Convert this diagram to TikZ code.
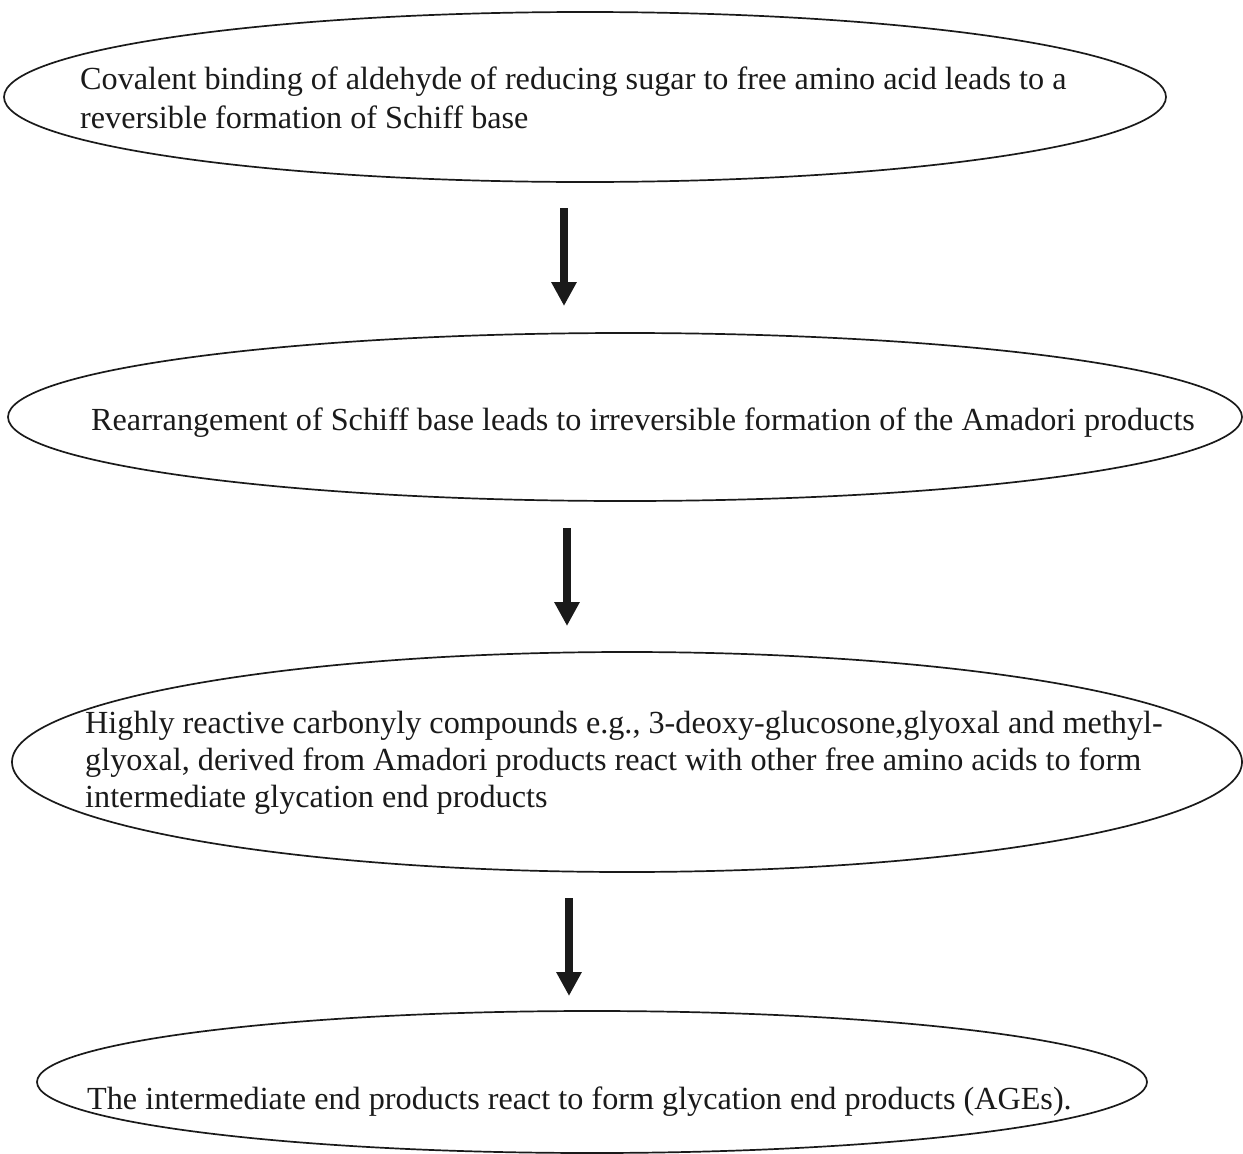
\documentclass[tikz,border=0pt]{standalone}
\usepackage{fontspec}
\setmainfont{Liberation Serif}
\usetikzlibrary{shapes.geometric,arrows.meta}
\definecolor{ink}{HTML}{1A1A1A}
\begin{document}
\begin{tikzpicture}[x=1pt,y=-1pt,
  ell/.style={draw=ink,line width=1.7pt,ellipse,inner sep=0pt,fill=none},
  txt/.style={anchor=base west,inner sep=0pt,text=ink,font=\fontsize{32.2pt}{38pt}\selectfont},
  arr/.style={draw=ink,line width=7.5pt,-{Triangle[width=24pt,length=24pt]}}]
\useasboundingbox (0,0) rectangle (1243,1154);
% ellipses
\node[ell,minimum width=1162pt,minimum height=170pt] (e1) at (585,97) {};
\node[ell,minimum width=1234pt,minimum height=168pt] (e2) at (625,417) {};
\node[ell,minimum width=1230pt,minimum height=220pt] (e3) at (627,762) {};
\node[ell,minimum width=1110pt,minimum height=142pt] (e4) at (592,1082) {};
% texts
\node[txt] (t1a) at (80,89) {Covalent binding of aldehyde of reducing sugar to free amino acid leads to a};
\node[txt] (t1b) at (80,128) {reversible formation of Schiff base};
\node[txt] (t2) at (91,430) {Rearrangement of Schiff base leads to irreversible formation of the Amadori products};
\node[txt] (t3a) at (85,733) {Highly reactive carbonyly compounds e.g., 3-deoxy-glucosone,glyoxal and methyl-};
\node[txt] (t3b) at (85,770) {glyoxal, derived from Amadori products react with other free amino acids to form};
\node[txt] (t3c) at (85,807) {intermediate glycation end products};
\node[txt] (t4) at (87,1109) {The intermediate end products react to form glycation end products (AGEs).};
% arrows
\coordinate (a1s) at (564,208);
\coordinate (a1e) at (564,306);
\coordinate (a2s) at (567,528);
\coordinate (a2e) at (567,626);
\coordinate (a3s) at (569,898);
\coordinate (a3e) at (569,996);
\draw[arr] (a1s) -- (a1e);
\draw[arr] (a2s) -- (a2e);
\draw[arr] (a3s) -- (a3e);
\end{tikzpicture}
\end{document}
